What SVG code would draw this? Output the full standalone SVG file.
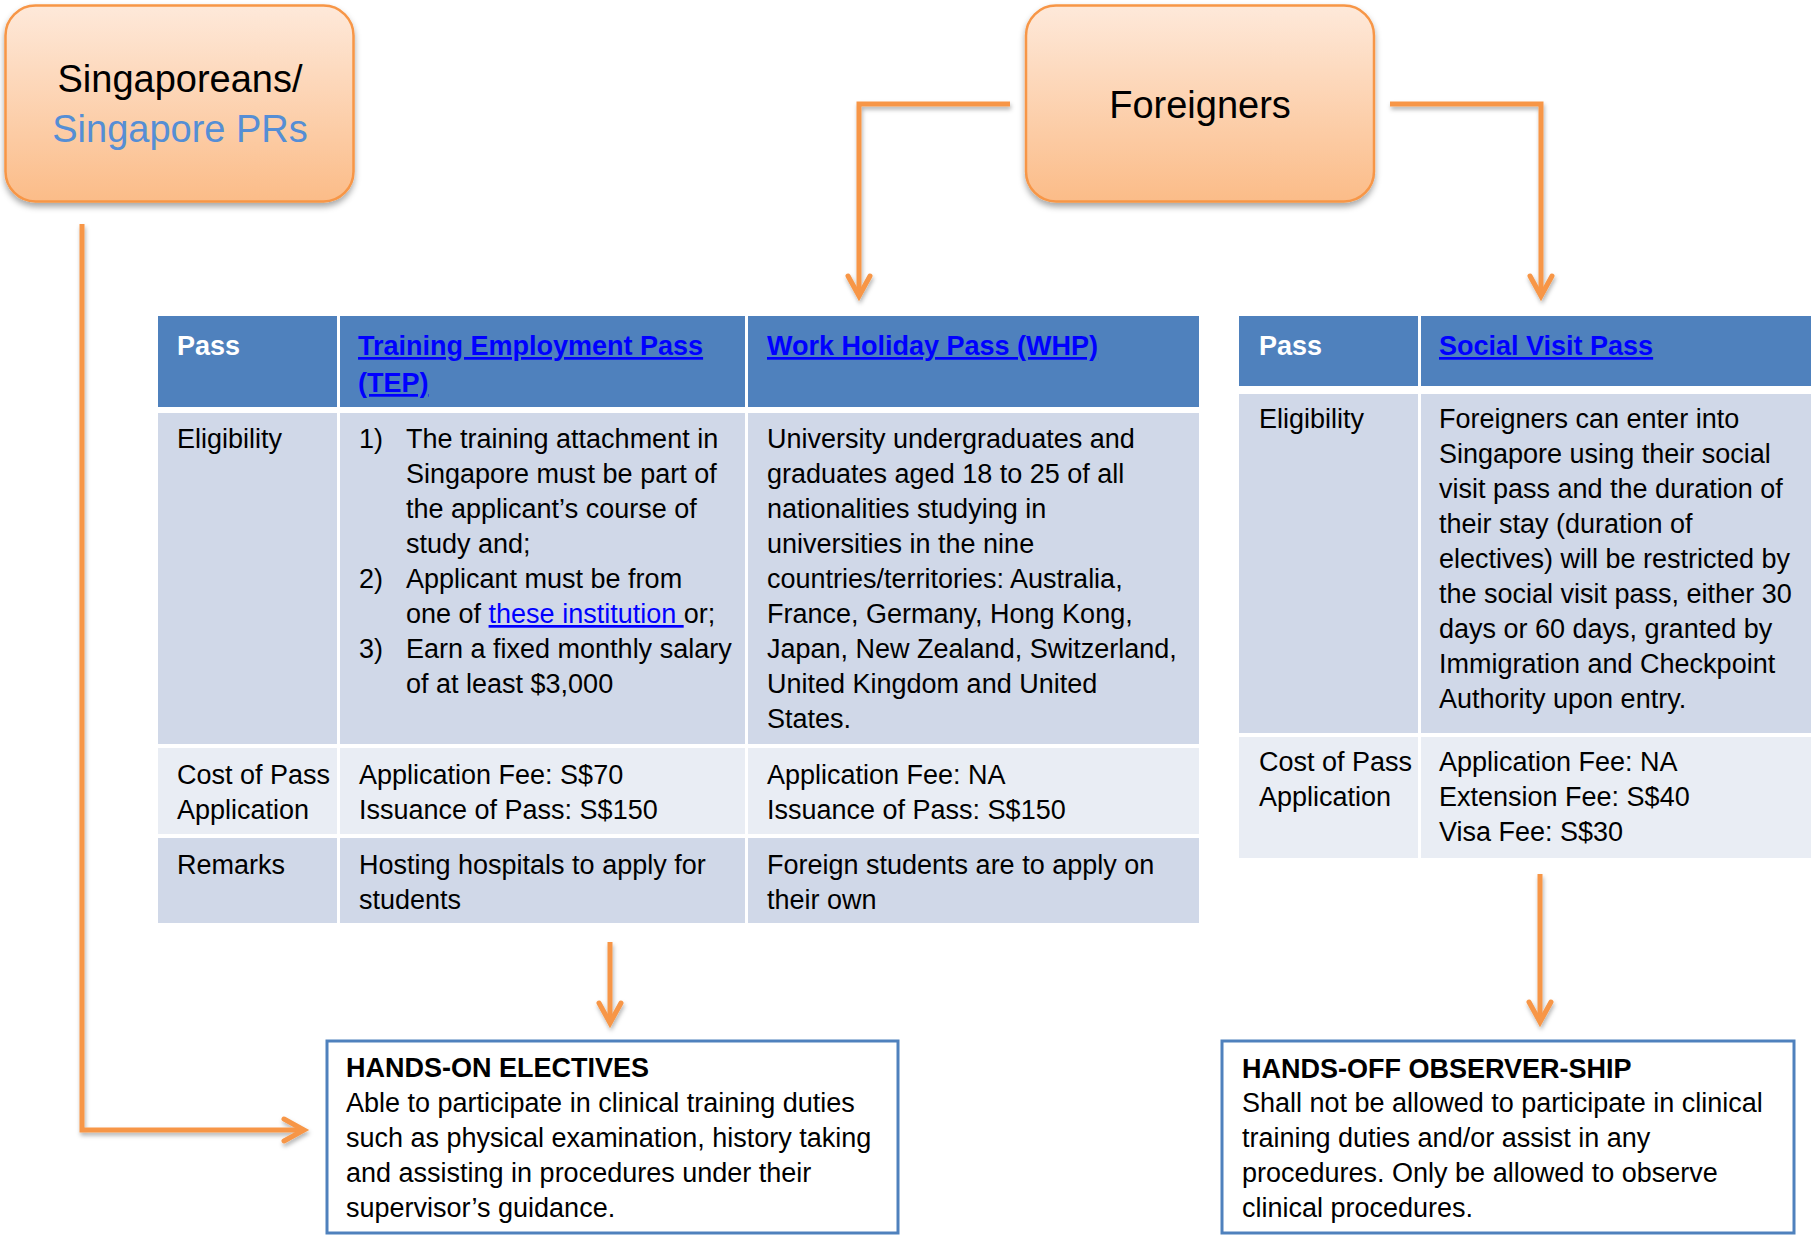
<svg xmlns="http://www.w3.org/2000/svg" width="1816" height="1235" viewBox="0 0 1816 1235">
<style>
.t{font-family:"Liberation Sans",Arial,sans-serif;font-size:27px;fill:#000}
.hd{font-weight:bold;fill:#fff}
.lk{font-weight:bold;fill:#0000FF;text-decoration:underline}
.ul{fill:#0000FF;text-decoration:underline}
.b{font-weight:bold}
.big{font-family:"Liberation Sans",Arial,sans-serif;font-size:38px;fill:#000;text-anchor:middle}
.rb{fill:url(#og);stroke:#F79646;stroke-width:2.5}
.hdr{fill:#4F81BD}
.c1{fill:#D0D8E8}
.c2{fill:#E9EDF4}
.bx{fill:#fff;stroke:#4F81BD;stroke-width:3}
.cn{fill:none;stroke:#F79646;stroke-width:5}
</style>
<defs>
<linearGradient id="og" x1="0" y1="0" x2="0" y2="1">
<stop offset="0" stop-color="#FEE9DA"/>
<stop offset="1" stop-color="#FBBC88"/>
</linearGradient>
<filter id="sh" x="-10%" y="-10%" width="130%" height="140%">
<feDropShadow dx="0" dy="4" stdDeviation="3" flood-color="#000" flood-opacity="0.35"/>
</filter>
<filter id="lsh" filterUnits="userSpaceOnUse" x="0" y="0" width="1816" height="1235">
<feDropShadow dx="1" dy="3" stdDeviation="2" flood-color="#000" flood-opacity="0.3"/>
</filter>
<marker id="ah" markerUnits="userSpaceOnUse" viewBox="-26 -16 30 32" markerWidth="30" markerHeight="32" refX="0" refY="0" orient="auto" overflow="visible">
<path d="M-20,-11 L0,0 L-20,11" fill="none" stroke="#F79646" stroke-width="5" stroke-linejoin="miter" stroke-linecap="round"/>
</marker>
</defs>
<rect width="1816" height="1235" fill="#fff"/>

<g id="connectors" filter="url(#lsh)">
<path class="cn" marker-end="url(#ah)" d="M82,224 V1130 H304"/>
<path class="cn" marker-end="url(#ah)" d="M1010,104 H859 V296"/>
<path class="cn" marker-end="url(#ah)" d="M1390,104 H1541 V296"/>
<path class="cn" marker-end="url(#ah)" d="M610,942 V1023"/>
<path class="cn" marker-end="url(#ah)" d="M1540,874 V1022"/>
</g>

<g id="singaporeans">
<rect class="rb" filter="url(#sh)" x="5.5" y="5.5" width="348" height="196" rx="30"/>
<text class="big" x="180" y="92">Singaporeans/</text>
<text class="big" x="180" y="142" style="fill:#558ED5">Singapore PRs</text>
</g>

<g id="foreigners">
<rect class="rb" filter="url(#sh)" x="1026" y="5.5" width="348" height="196" rx="30"/>
<text class="big" x="1200" y="118">Foreigners</text>
</g>

<g id="table-tep-whp">
<rect class="hdr" x="158" y="316" width="179" height="91"/>
<rect class="hdr" x="340" y="316" width="405" height="91"/>
<rect class="hdr" x="748" y="316" width="451" height="91"/>
<rect class="c1" x="158" y="413" width="179" height="331"/>
<rect class="c1" x="340" y="413" width="405" height="331"/>
<rect class="c1" x="748" y="413" width="451" height="331"/>
<rect class="c2" x="158" y="748" width="179" height="86"/>
<rect class="c2" x="340" y="748" width="405" height="86"/>
<rect class="c2" x="748" y="748" width="451" height="86"/>
<rect class="c1" x="158" y="838" width="179" height="85"/>
<rect class="c1" x="340" y="838" width="405" height="85"/>
<rect class="c1" x="748" y="838" width="451" height="85"/>
<text class="t hd" x="177" y="355">Pass</text>
<text class="t lk" x="358" y="355">Training Employment Pass</text>
<text class="t lk" x="358" y="392">(TEP)</text>
<text class="t lk" x="767" y="355">Work Holiday Pass (WHP)</text>
<text class="t" x="177" y="448">Eligibility</text>
<text class="t" x="359" y="448">1)</text>
<text class="t" x="406" y="448">The training attachment in</text>
<text class="t" x="406" y="483">Singapore must be part of</text>
<text class="t" x="406" y="518">the applicant’s course of</text>
<text class="t" x="406" y="553">study and;</text>
<text class="t" x="359" y="588">2)</text>
<text class="t" x="406" y="588">Applicant must be from</text>
<text class="t" x="406" y="623" xml:space="preserve">one of <tspan class="ul">these institution </tspan>or;</text>
<text class="t" x="359" y="658">3)</text>
<text class="t" x="406" y="658">Earn a fixed monthly salary</text>
<text class="t" x="406" y="693">of at least $3,000</text>
<text class="t" x="767" y="448">University undergraduates and</text>
<text class="t" x="767" y="483">graduates aged 18 to 25 of all</text>
<text class="t" x="767" y="518">nationalities studying in</text>
<text class="t" x="767" y="553">universities in the nine</text>
<text class="t" x="767" y="588">countries/territories: Australia,</text>
<text class="t" x="767" y="623">France, Germany, Hong Kong,</text>
<text class="t" x="767" y="658">Japan, New Zealand, Switzerland,</text>
<text class="t" x="767" y="693">United Kingdom and United</text>
<text class="t" x="767" y="728">States.</text>
<text class="t" x="177" y="784">Cost of Pass</text>
<text class="t" x="177" y="819">Application</text>
<text class="t" x="359" y="784">Application Fee: S$70</text>
<text class="t" x="359" y="819">Issuance of Pass: S$150</text>
<text class="t" x="767" y="784">Application Fee: NA</text>
<text class="t" x="767" y="819">Issuance of Pass: S$150</text>
<text class="t" x="177" y="874">Remarks</text>
<text class="t" x="359" y="874">Hosting hospitals to apply for</text>
<text class="t" x="359" y="909">students</text>
<text class="t" x="767" y="874">Foreign students are to apply on</text>
<text class="t" x="767" y="909">their own</text>
</g>

<g id="table-svp">
<rect class="hdr" x="1239" y="316" width="179" height="70"/>
<rect class="hdr" x="1421" y="316" width="390" height="70"/>
<rect class="c1" x="1239" y="394" width="179" height="339"/>
<rect class="c1" x="1421" y="394" width="390" height="339"/>
<rect class="c2" x="1239" y="737" width="179" height="121"/>
<rect class="c2" x="1421" y="737" width="390" height="121"/>
<text class="t hd" x="1259" y="355">Pass</text>
<text class="t lk" x="1439" y="355">Social Visit Pass</text>
<text class="t" x="1259" y="428">Eligibility</text>
<text class="t" x="1439" y="428">Foreigners can enter into</text>
<text class="t" x="1439" y="463">Singapore using their social</text>
<text class="t" x="1439" y="498">visit pass and the duration of</text>
<text class="t" x="1439" y="533">their stay (duration of</text>
<text class="t" x="1439" y="568">electives) will be restricted by</text>
<text class="t" x="1439" y="603">the social visit pass, either 30</text>
<text class="t" x="1439" y="638">days or 60 days, granted by</text>
<text class="t" x="1439" y="673">Immigration and Checkpoint</text>
<text class="t" x="1439" y="708">Authority upon entry.</text>
<text class="t" x="1259" y="771">Cost of Pass</text>
<text class="t" x="1259" y="806">Application</text>
<text class="t" x="1439" y="771">Application Fee: NA</text>
<text class="t" x="1439" y="806">Extension Fee: S$40</text>
<text class="t" x="1439" y="841">Visa Fee: S$30</text>
</g>

<g id="hands-on">
<rect class="bx" x="327" y="1041" width="571" height="192"/>
<text class="t b" x="346" y="1077">HANDS-ON ELECTIVES</text>
<text class="t" x="346" y="1112">Able to participate in clinical training duties</text>
<text class="t" x="346" y="1147">such as physical examination, history taking</text>
<text class="t" x="346" y="1182">and assisting in procedures under their</text>
<text class="t" x="346" y="1217">supervisor’s guidance.</text>
</g>

<g id="hands-off">
<rect class="bx" x="1222" y="1041" width="572" height="192"/>
<text class="t b" x="1242" y="1078">HANDS-OFF OBSERVER-SHIP</text>
<text class="t" x="1242" y="1112">Shall not be allowed to participate in clinical</text>
<text class="t" x="1242" y="1147">training duties and/or assist in any</text>
<text class="t" x="1242" y="1182">procedures. Only be allowed to observe</text>
<text class="t" x="1242" y="1217">clinical procedures.</text>
</g>
</svg>
